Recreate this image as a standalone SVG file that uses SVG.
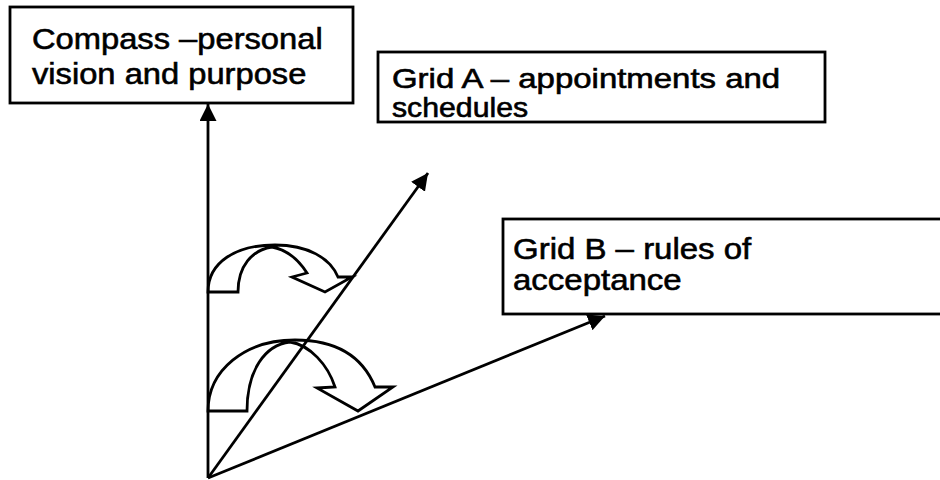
<svg xmlns="http://www.w3.org/2000/svg" width="940" height="480" viewBox="0 0 940 480">
<style>
.box{fill:#fff;stroke:#000;stroke-width:2.8}
.t{font-family:"Liberation Sans",Arial,sans-serif;font-size:30px;fill:#000;stroke:#000;stroke-width:0.6}
.ts{font-family:"Liberation Sans",Arial,sans-serif;font-size:27px;fill:#000;stroke:#000;stroke-width:0.6}
.ln{stroke:#000;stroke-width:2.8;fill:none}
.ca{fill:none;stroke:#000;stroke-width:2.8;stroke-linejoin:miter}
</style>
<defs>
<marker id="ah" markerUnits="userSpaceOnUse" markerWidth="20" markerHeight="18" refX="17" refY="8.5" orient="auto">
<path d="M0,0 L17,8.5 L0,17 Z" fill="#000"/>
</marker>
</defs>
<g id="compass">
<rect class="box" x="10" y="7" width="343" height="96"/>
<text class="t" transform="translate(32,49) scale(1.09,1)">Compass –personal</text>
<text class="t" transform="translate(32,84) scale(1.09,1)">vision and purpose</text>
</g>
<g id="gridA">
<rect class="box" x="378" y="52" width="447" height="70"/>
<text class="ts" transform="translate(392,88) scale(1.22,1)">Grid A – appointments and</text>
<text class="ts" transform="translate(392,117) scale(1.12,1)">schedules</text>
</g>
<g id="gridB">
<rect class="box" x="503" y="219" width="450" height="95"/>
<text class="t" transform="translate(513,259) scale(1.1,1)">Grid B – rules of</text>
<text class="t" transform="translate(513,290) scale(1.1,1)">acceptance</text>
</g>
<g id="connectors">
<line class="ln" x1="208" y1="478" x2="208" y2="104" marker-end="url(#ah)"/>
<line class="ln" x1="208" y1="478" x2="428" y2="173" marker-end="url(#ah)"/>
<line class="ln" x1="208" y1="478" x2="605" y2="316" marker-end="url(#ah)"/>
</g>
<g id="curved-arrow-top">
<path class="ca" d="M208,292 L238,292 C238,266 252,250 272,247 C288,250 300,262 307,273 L292,277 L325,292 L352,277 L338,277 C330,258 308,245 275,245 C236,245 208,262 208,292 Z"/>
</g>
<g id="curved-arrow-bottom">
<path class="ca" d="M208,411 L247,411 C247,370 265,345 290,342 C310,345 328,365 335,387 L317,388 L358,411 L393,387 L375,387 C362,355 335,340 295,340 C245,340 208,370 208,411 Z"/>
</g>
</svg>
